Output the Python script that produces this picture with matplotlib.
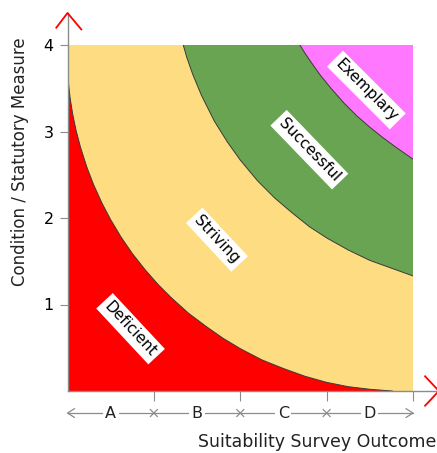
import matplotlib
matplotlib.use("Agg")
import matplotlib.pyplot as plt

# Boundary curves (data units)
red_x = [0.0, 0.01, 0.03, 0.06, 0.10, 0.15, 0.22, 0.30, 0.40, 0.50, 0.62, 0.75, 0.90, 1.05,
         1.20, 1.40, 1.60, 1.80, 2.00, 2.25, 2.50, 2.75, 3.00, 3.25, 3.50, 3.76]
red_y = [3.73, 3.57, 3.39, 3.20, 3.01, 2.82, 2.60, 2.39, 2.17, 1.98, 1.78, 1.59, 1.40, 1.23,
         1.08, 0.90, 0.75, 0.61, 0.49, 0.36, 0.26, 0.17, 0.10, 0.05, 0.02, 0.0]

green_x = [1.34, 1.38, 1.45, 1.55, 1.70, 1.85, 2.00, 2.20, 2.40, 2.60, 2.80, 3.00, 3.25, 3.50, 3.75, 4.0]
green_y = [4.0, 3.86, 3.66, 3.42, 3.12, 2.88, 2.67, 2.43, 2.23, 2.06, 1.90, 1.77, 1.63, 1.51, 1.42, 1.33]

pink_x = [2.69, 2.74, 2.80, 2.92, 3.05, 3.20, 3.35, 3.50, 3.65, 3.80, 4.0]
pink_y = [4.0, 3.92, 3.83, 3.66, 3.50, 3.33, 3.18, 3.05, 2.93, 2.82, 2.68]

zone_labels = ["Deficient", "Striving", "Successful", "Exemplary"]
zone_x = [0.73, 1.73, 2.80, 3.46]
zone_y = [0.72, 1.75, 2.79, 3.48]
zone_rot = [-47, -47, -46, -45]

categories = ["A", "B", "C", "D"]
yticks = [1, 2, 3, 4]

c_red = "#ff0000"
c_yellow = "#fddc82"
c_green = "#68a452"
c_pink = "#ff78ff"
c_edge = "#3a3a3a"
c_axis = "#8c8c8c"

fig = plt.figure(figsize=(4.37, 4.53), dpi=100)
ax = fig.add_axes([67.5 / 437, 1 - 391 / 453, 345.5 / 437, 346 / 453])
ax.set_xlim(0, 4)
ax.set_ylim(0, 4)

# regions (painted from top zone downwards)
ax.fill([0, 4, 4, 0], [0, 0, 4, 4], color=c_pink, lw=0)
ax.fill([0, 0] + pink_x + [4], [0, 4] + pink_y + [0], color=c_green, lw=0)
ax.fill([0, 0] + green_x + [4], [0, 4] + green_y + [0], color=c_yellow, lw=0)
ax.fill([0] + red_x, [0] + red_y, color=c_red, lw=0)
for xs, ys in [(red_x, red_y), (green_x, green_y), (pink_x, pink_y)]:
    ax.plot(xs, ys, color=c_edge, lw=0.7, solid_joinstyle="round")

for lab, x, y, r in zip(zone_labels, zone_x, zone_y, zone_rot):
    ax.text(x, y, lab, rotation=r, rotation_mode="anchor", ha="center", va="center",
            fontsize=11, color="black",
            bbox=dict(boxstyle="square,pad=0.25", fc="white", ec="none"))

for s in ax.spines.values():
    s.set_visible(False)

# axis lines with red chevrons
ax.plot([0, 0], [0, 4.37], color=c_axis, lw=1, clip_on=False)
ax.plot([0, 4.28], [0, 0], color=c_axis, lw=1, clip_on=False)
ax.plot([-0.13, 0, 0.16], [4.2, 4.37, 4.18], color="red", lw=1.3, clip_on=False)
ax.plot([4.14, 4.30, 4.14], [0.17, 0, -0.17], color="red", lw=1.3, clip_on=False)

ax.set_yticks(yticks)
ax.set_yticklabels([str(t) for t in yticks])
ax.set_xticks(yticks)
ax.set_xticklabels([])
ax.tick_params(axis="y", length=6, color=c_axis, labelsize=11.5, pad=4)
ax.tick_params(axis="x", length=7, color=c_axis)

# category row beneath the x axis
ry = -0.255
ax.plot([0, 4], [ry, ry], color=c_axis, lw=0.9, clip_on=False)
ax.plot([0.08, 0, 0.08], [ry + 0.05, ry, ry - 0.05], color=c_axis, lw=0.9, clip_on=False)
ax.plot([3.92, 4, 3.92], [ry + 0.05, ry, ry - 0.05], color=c_axis, lw=0.9, clip_on=False)
for xb in [1, 2, 3]:
    ax.plot([xb - 0.04, xb + 0.04], [ry - 0.04, ry + 0.04], color=c_axis, lw=0.9, clip_on=False)
    ax.plot([xb - 0.04, xb + 0.04], [ry + 0.04, ry - 0.04], color=c_axis, lw=0.9, clip_on=False)
for i, c in enumerate(categories):
    ax.text(i + 0.5, ry, c, ha="center", va="center", fontsize=11.5, color="#222222",
            bbox=dict(boxstyle="square,pad=0.15", fc="white", ec="none"), clip_on=False)

fig.text(0.999, 1 - 442 / 453, "Suitability Survey Outcome", ha="right", va="center",
         fontsize=12.5, color="#222222")
fig.text(20 / 437, 1 - 162 / 453, "Condition / Statutory Measure", rotation=90,
         ha="center", va="center", fontsize=12, color="#222222")

fig.savefig("out.png", dpi=100)
